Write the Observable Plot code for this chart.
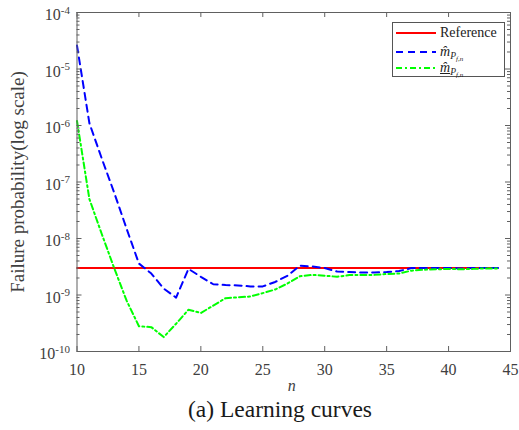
<!DOCTYPE html>
<html>
<head>
<meta charset="utf-8">
<script src="https://cdn.jsdelivr.net/npm/d3@7"></script>
<script src="https://cdn.jsdelivr.net/npm/@observablehq/plot@0.6"></script>
<style>
  body { margin: 0; background: #fff; font-family: "Liberation Serif", "DejaVu Serif", serif; }
  #wrap { position: relative; width: 519px; height: 430px; }
  #chart svg, #chart svg text { font-family: "Liberation Serif", "DejaVu Serif", serif !important; }
  #caption { position: absolute; left: 188px; top: 396px; font-size: 23.5px; line-height: 26px; color: #1a1a1a; white-space: nowrap; }
  #legend { position: absolute; left: 392px; top: 22px; width: 113px; height: 55px; border: 1px solid #555; background: #fff; box-sizing: border-box; font-size: 14px; color: #222; }
  .row { position: absolute; left: 3px; height: 16px; display: flex; align-items: center; white-space: nowrap; }
  .row svg { margin-right: 4px; }
  .sub { font-size: 9.5px; position: relative; top: 3px; font-style: italic; }
  .subsub { font-size: 7px; position: relative; top: 2px; font-style: italic; }
</style>
</head>
<body>
<div id="wrap">
  <div id="chart"></div>
  <div id="legend">
    <div class="row" style="top:2px"><svg width="40" height="4"><line x1="0" x2="40" y1="2" y2="2" stroke="#ff0000" stroke-width="2"/></svg><span>Reference</span></div>
    <div class="row" style="top:21px"><svg width="40" height="4"><line x1="0" x2="40" y1="2" y2="2" stroke="#0000ff" stroke-width="2" stroke-dasharray="7,5"/></svg><span><i>m&#770;</i><span class="sub">P<span class="subsub">f,n</span></span></span></div>
    <div class="row" style="top:37px"><svg width="40" height="4"><line x1="0" x2="40" y1="2" y2="2" stroke="#00ff00" stroke-width="2" stroke-dasharray="6,3,2,3"/></svg><span><i style="text-decoration:underline">m&#770;</i><span class="sub">P<span class="subsub">f,n</span></span></span></div>
  </div>
  <div id="caption">(a) Learning curves</div>
</div>
<script>
// ---- data ----
const nValues = [10,11,12,13,14,15,16,17,18,19,20,21,22,23,24,25,26,27,28,29,30,31,32,33,34,35,36,37,38,39,40,41,42,43,44];
const mHat = [2.6e-5,1.1e-6,2.6e-7,6.5e-8,1.5e-8,3.6e-9,2.4e-9,1.3e-9,9.0e-10,2.9e-9,2.1e-9,1.55e-9,1.5e-9,1.48e-9,1.42e-9,1.42e-9,1.7e-9,2.2e-9,3.3e-9,3.2e-9,3.0e-9,2.6e-9,2.55e-9,2.5e-9,2.5e-9,2.55e-9,2.65e-9,3.0e-9,3.0e-9,3.0e-9,3.0e-9,2.95e-9,3.0e-9,3.0e-9,3.0e-9];
const mHatLower = [1.2e-6,5.0e-8,1.2e-8,3.0e-9,8.0e-10,2.8e-10,2.7e-10,1.8e-10,3.1e-10,5.5e-10,4.8e-10,6.5e-10,8.8e-10,9.1e-10,9.4e-10,1.08e-9,1.25e-9,1.6e-9,2.15e-9,2.27e-9,2.2e-9,2.1e-9,2.25e-9,2.25e-9,2.27e-9,2.35e-9,2.4e-9,2.7e-9,2.8e-9,2.85e-9,2.9e-9,2.85e-9,2.9e-9,2.95e-9,2.95e-9];
const referenceValue = 3.0e-9;
const xTicks = [10,15,20,25,30,35,40,45];
const yTicks = [1e-10,1e-9,1e-8,1e-7,1e-6,1e-5,1e-4];
const yMinorTicks = [];
for (let e = -10; e < -4; e++) for (let k = 2; k <= 9; k++) yMinorTicks.push(k * Math.pow(10, e));

const refRows = nValues.map(n => ({n, v: referenceValue}));
const blueRows = nValues.map((n, i) => ({n, v: mHat[i]}));
const greenRows = nValues.map((n, i) => ({n, v: mHatLower[i]}));

const W = 519, H = 400, mL = 76.5, mR = 9, mT = 12, mB = 49;
const pw = W - mL - mR, ph = H - mT - mB;
const axisColor = "#606060";
const textColor = "#404040";

const chart = Plot.plot({
  width: W, height: H,
  marginLeft: mL, marginRight: mR, marginTop: mT, marginBottom: mB,
  style: {fontFamily: "'Liberation Serif', 'DejaVu Serif', serif", fontSize: "16px", color: textColor, background: "#fff"},
  x: {domain: [10, 45]},
  y: {type: "log", domain: [1e-10, 1e-4]},
  marks: [
    Plot.ruleY([referenceValue], {x1: 10, x2: 44, stroke: "#ff0000", strokeWidth: 2}),
    Plot.line(blueRows, {x: "n", y: "v", stroke: "#0000ff", strokeWidth: 2, strokeDasharray: "7,5"}),
    Plot.line(greenRows, {x: "n", y: "v", stroke: "#00ff00", strokeWidth: 2, strokeDasharray: "6,3,2,3"}),
    // inward ticks
    Plot.ruleX(xTicks, {x: d => d, insetTop: ph - 5, stroke: axisColor}),
    Plot.ruleX(xTicks, {x: d => d, insetBottom: ph - 5, stroke: axisColor}),
    Plot.ruleY(yTicks, {y: d => d, insetRight: pw - 5, stroke: axisColor}),
    Plot.ruleY(yTicks, {y: d => d, insetLeft: pw - 5, stroke: axisColor}),
    Plot.ruleY(yMinorTicks, {y: d => d, insetRight: pw - 3, stroke: axisColor}),
    Plot.ruleY(yMinorTicks, {y: d => d, insetLeft: pw - 3, stroke: axisColor}),
    Plot.frame({stroke: axisColor}),
    Plot.axisX({ticks: xTicks, tickSize: 0, tickPadding: 12, label: null, tickFormat: d => String(d), fill: textColor, fontSize: 16}),
    Plot.axisY({ticks: yTicks, tickSize: 0, tickPadding: 7, dy: 2.5, label: null, tickFormat: d => "10^" + Math.round(Math.log10(d)), fill: textColor, fontSize: 16}),
    Plot.text(["n"], {frameAnchor: "bottom", dy: 39, dx: -2, fontStyle: "italic", fontSize: 16, fill: textColor}),
    Plot.text(["Failure probability(log scale)"], {frameAnchor: "left", textAnchor: "middle", dx: -59.5, rotate: -90, fontSize: 19, fill: textColor})
  ]
});
document.getElementById("chart").appendChild(chart);

// superscript exponents on y tick labels
d3.select(chart).selectAll('g[aria-label="y-axis tick label"] text').each(function() {
  const t = d3.select(this);
  const s = t.text();
  if (!s.startsWith("10^")) return;
  const exp = s.slice(3);
  t.text("10");
  t.append("tspan").attr("dy", -6.5).attr("font-size", 11).text(exp);
});
</script>
</body>
</html>
